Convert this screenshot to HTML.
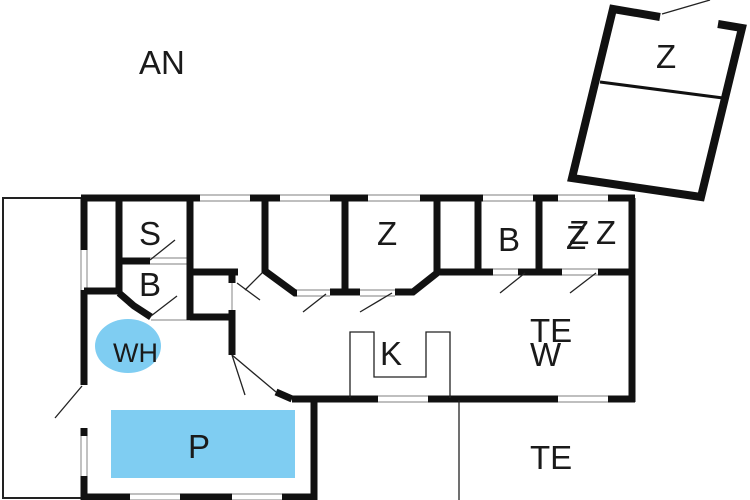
<!DOCTYPE html>
<html><head><meta charset="utf-8"><style>
html,body{margin:0;padding:0;background:#fff;}
svg{display:block;}
text{font-family:"Liberation Sans",sans-serif;font-size:33px;fill:#1a1a1a;}
</style></head><body>
<svg width="750" height="500" viewBox="0 0 750 500" xmlns="http://www.w3.org/2000/svg">
<rect width="750" height="500" fill="#fff"/>
<polyline points="84,198 3,198 3,498 84,498" fill="none" stroke="#222" stroke-width="2"/>
<rect x="111" y="410" width="184" height="68" fill="#7fcdf2"/>
<ellipse cx="128" cy="346" rx="33" ry="27" fill="#7fcdf2"/>
<!-- window outlines -->
<g stroke="#999" stroke-width="1.2" fill="none">
<path d="M200 195H250M200 201H250M280 195H330M280 201H330M368 195H420M368 201H420M483 195H533M483 201H533M558 195H608M558 201H608"/>
<path d="M378 396H428M378 402H428M558 396H608M558 402H608"/>
<path d="M130 494H180M130 500H180M232 494H282M232 500H282"/>
<path d="M81 250V290M87 250V290M81 436V476M87 436V476"/>
<path d="M150 258H190M150 264H190M297 290H330M297 296H330M360 290H395M360 296H395M493 269H518M493 275H518M562 269H598M562 275H598M151 320H190M232 283V310"/>
</g>
<g stroke="#111" stroke-width="7" fill="none" stroke-linecap="butt">
<line x1="81" y1="198" x2="200" y2="198"/>
<line x1="250" y1="198" x2="280" y2="198"/>
<line x1="330" y1="198" x2="368" y2="198"/>
<line x1="420" y1="198" x2="483" y2="198"/>
<line x1="533" y1="198" x2="558" y2="198"/>
<line x1="608" y1="198" x2="635" y2="198"/>
<line x1="632" y1="198" x2="632" y2="402"/>
<line x1="292" y1="399" x2="378" y2="399"/>
<line x1="428" y1="399" x2="558" y2="399"/>
<line x1="608" y1="399" x2="635" y2="399"/>
<line x1="314" y1="399" x2="314" y2="500"/>
<line x1="81" y1="497" x2="130" y2="497"/>
<line x1="180" y1="497" x2="232" y2="497"/>
<line x1="282" y1="497" x2="317" y2="497"/>
<line x1="84" y1="198" x2="84" y2="250"/>
<line x1="84" y1="290" x2="84" y2="385"/>
<line x1="84" y1="428" x2="84" y2="436"/>
<line x1="84" y1="476" x2="84" y2="500"/>
<line x1="84" y1="291" x2="119" y2="291"/>
<line x1="119" y1="198" x2="119" y2="294"/>
<line x1="119" y1="261" x2="150" y2="261"/>
<polyline points="119,293 134,306 151,317"/>
<line x1="190" y1="198" x2="190" y2="320"/>
<line x1="190" y1="272" x2="238" y2="272"/>
<line x1="190" y1="317" x2="230" y2="317"/>
<line x1="232" y1="272" x2="232" y2="283"/>
<line x1="232" y1="310" x2="232" y2="355"/>
<polyline points="265,198 265,271 295,293 297,293"/>
<line x1="345" y1="198" x2="345" y2="292"/>
<line x1="330" y1="292" x2="360" y2="292"/>
<polyline points="395,292 413,292 437,273"/>
<line x1="437" y1="198" x2="437" y2="275"/>
<line x1="478" y1="198" x2="478" y2="272"/>
<line x1="437" y1="272" x2="493" y2="272"/>
<line x1="539" y1="198" x2="539" y2="272"/>
<line x1="518" y1="272" x2="562" y2="272"/>
<line x1="598" y1="272" x2="632" y2="272"/>
<line x1="276" y1="392" x2="292" y2="399"/>
</g>
<g stroke="#111" stroke-width="8" fill="none" stroke-linejoin="miter">
<polyline points="660,17 613,9 572,178 701,197 742,28 718,24"/>
</g>
<g stroke="#111" stroke-width="3" fill="none">
<line x1="600" y1="82" x2="723" y2="98"/>
</g>
<g stroke="#222" stroke-width="1.3" fill="none">
<line x1="662" y1="14" x2="710" y2="0"/>
<line x1="150" y1="260" x2="175" y2="240"/>
<line x1="151" y1="316" x2="177" y2="296"/>
<line x1="237" y1="283" x2="260" y2="300"/>
<line x1="245" y1="290" x2="262" y2="273"/>
<line x1="303" y1="312" x2="326" y2="294"/>
<line x1="360" y1="312" x2="392" y2="293"/>
<line x1="500" y1="293" x2="525" y2="273"/>
<line x1="570" y1="293" x2="596" y2="273"/>
<line x1="232" y1="355" x2="245" y2="395"/>
<line x1="232" y1="355" x2="276" y2="392"/>
<line x1="82" y1="386" x2="55" y2="418"/>
<line x1="459" y1="400" x2="459" y2="500"/>
<polyline points="350,398 350,332 374,332 374,377 426,377 426,332 450,332 450,398"/>
</g>
<text x="139" y="74">AN</text>
<text x="656" y="68">Z</text>
<text x="139" y="245">S</text>
<text x="139" y="296">B</text>
<text x="377" y="245">Z</text>
<text x="498" y="251">B</text>
<text x="566" y="249">Z</text>
<text x="569" y="244">Z</text>
<text x="596" y="244">Z</text>
<text x="530" y="342">TE</text>
<text x="530" y="366">W</text>
<text x="380" y="365">K</text>
<text x="113" y="362" style="font-size:27px">WH</text>
<text x="188" y="458">P</text>
<text x="530" y="469">TE</text>
</svg>
</body></html>
